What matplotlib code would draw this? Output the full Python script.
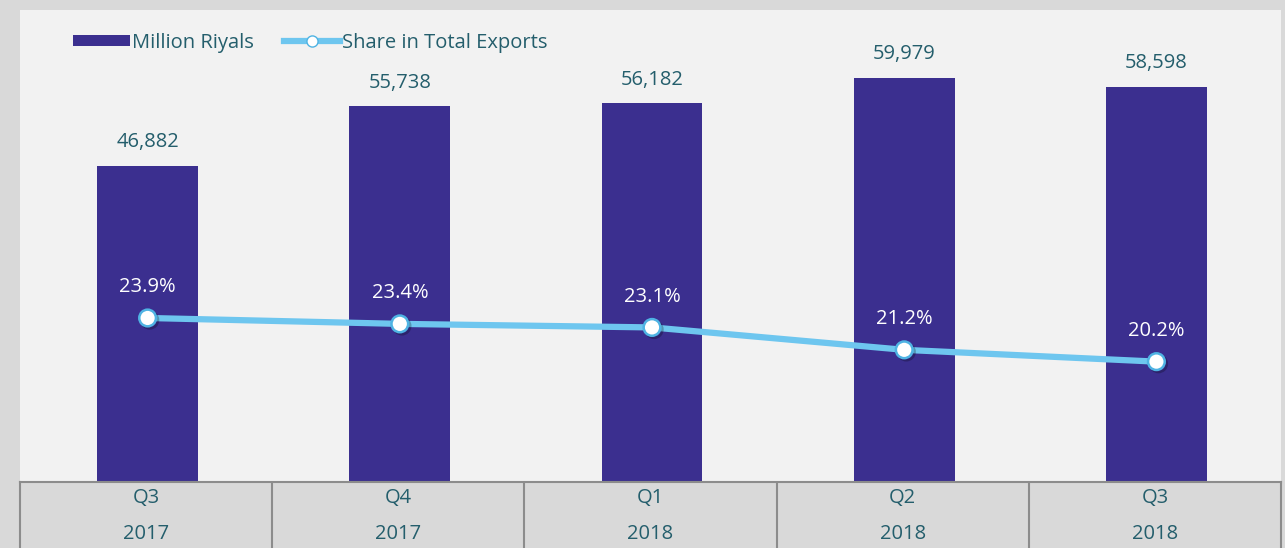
import numpy as np
import matplotlib.pyplot as plt
import matplotlib.patheffects as pe
from matplotlib.lines import Line2D
from matplotlib.patches import Patch

quarters = ["Q3", "Q4", "Q1", "Q2", "Q3"]
years = ["2017", "2017", "2018", "2018", "2018"]
million_riyals = [46882, 55738, 56182, 59979, 58598]
share_pct = [23.9, 23.4, 23.1, 21.2, 20.2]

bar_color = "#3b2f8f"
line_color = "#6ec6ef"
text_color = "#245e6c"

plt.rcParams['font.family'] = ['Open Sans', 'DejaVu Sans']

fig = plt.figure(figsize=(12.85, 5.48), dpi=100, facecolor="#d9d9d9")
W, H = 1285, 548
ax = fig.add_axes([20 / W, 66 / H, 1261 / W, 472 / H])
ax.set_facecolor("#f2f2f2")
x = np.arange(len(quarters))
ax.bar(x + 0.006, million_riyals, width=0.4, color=bar_color, zorder=2)
ax.set_xlim(-0.5, len(quarters) - 0.5)
ax.set_ylim(0, 70000)
for xi, v in zip(x, million_riyals):
    ax.text(xi + 0.006, v + 2000, f"{v:,}", ha="center", va="bottom", fontsize=14.5,
            color=text_color)
ax.set_xticks([])
ax.set_yticks([])
for s in ax.spines.values():
    s.set_visible(False)

ax2 = ax.twinx()
ax2.set_ylim(10, 50)
shadow = [pe.SimpleLineShadow(offset=(1.5, -1.5), alpha=0.25), pe.Normal()]
ax2.plot(x + 0.006, share_pct, color=line_color, linewidth=4.5, zorder=3,
         solid_capstyle="round")
ax2.plot(x + 0.006, share_pct, linestyle="none", marker="o", markersize=12,
         markerfacecolor="white", markeredgecolor="#4fb3e3", markeredgewidth=1.8,
         zorder=4, path_effects=shadow)
for xi, v in zip(x, share_pct):
    ax2.text(xi + 0.006, v + 1.75, f"{v}%", ha="center", va="bottom", fontsize=14.5,
             color="white")
ax2.set_yticks([])
for s in ax2.spines.values():
    s.set_visible(False)

handles = [Patch(facecolor=bar_color),
           Line2D([0], [0], color=line_color, linewidth=4.5, marker="o", markersize=8,
                  markerfacecolor="white", markeredgecolor="#4fb3e3")]
ax.legend(handles, ["Million Riyals", "Share in Total Exports"], loc="upper left",
          bbox_to_anchor=(0.028, 0.99), ncol=2, frameon=False, fontsize=14.5,
          labelcolor=text_color, handlelength=2.8, handletextpad=0.1, columnspacing=1.5,
          handleheight=0.5)

# category table below the plot
tab = fig.add_axes([20 / W, 0, 1261 / W, 66 / H])
tab.set_facecolor("#d9d9d9")
tab.set_xlim(-0.5, len(quarters) - 0.5)
tab.set_ylim(0, 1)
tab.set_xticks([])
tab.set_yticks([])
for s in tab.spines.values():
    s.set_color("#8c8c8c")
    s.set_linewidth(1.5)
tab.spines["bottom"].set_visible(False)
for b in np.arange(0.5, len(quarters) - 0.5, 1):
    tab.axvline(b, color="#8c8c8c", linewidth=1.5)
for xi, q, y in zip(x, quarters, years):
    tab.text(xi, 0.76, q, ha="center", va="center", fontsize=14.5, color=text_color)
    tab.text(xi, 0.21, y, ha="center", va="center", fontsize=14.5, color=text_color)

fig.savefig("out.png", dpi=100, facecolor=fig.get_facecolor())
